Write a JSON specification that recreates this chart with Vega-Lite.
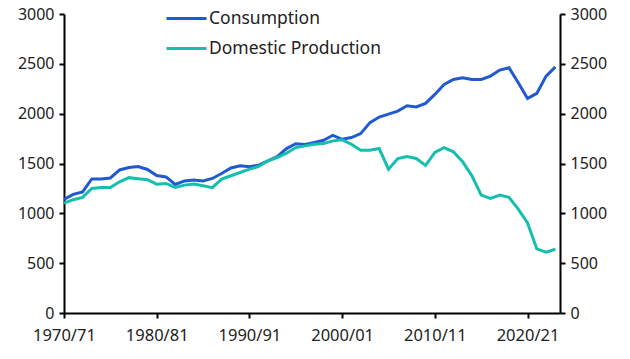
{
  "$schema": "https://vega.github.io/schema/vega-lite/v6.json",
  "width": 496,
  "height": 299,
  "autosize": {"type": "none"},
  "padding": {"left": 64, "top": 14, "right": 70, "bottom": 46},
  "background": "white",
  "config": {
    "view": {"stroke": null},
    "font": "Noto Sans",
    "axis": {
      "domainColor": "black", "domainWidth": 2,
      "tickColor": "black", "tickWidth": 2, "tickSize": 5,
      "labelFontSize": 16, "labelColor": "#222", "grid": false, "title": null,
      "labelFont": "Noto Sans"
    }
  },
  "datasets": {
    "d": [
      {"year":1970,"series":"Consumption","value":1140},{"year":1971,"series":"Consumption","value":1190},{"year":1972,"series":"Consumption","value":1215},{"year":1973,"series":"Consumption","value":1345},{"year":1974,"series":"Consumption","value":1345},{"year":1975,"series":"Consumption","value":1355},{"year":1976,"series":"Consumption","value":1435},{"year":1977,"series":"Consumption","value":1460},{"year":1978,"series":"Consumption","value":1470},{"year":1979,"series":"Consumption","value":1440},
      {"year":1980,"series":"Consumption","value":1380},{"year":1981,"series":"Consumption","value":1365},{"year":1982,"series":"Consumption","value":1290},{"year":1983,"series":"Consumption","value":1325},{"year":1984,"series":"Consumption","value":1335},{"year":1985,"series":"Consumption","value":1325},{"year":1986,"series":"Consumption","value":1350},{"year":1987,"series":"Consumption","value":1400},{"year":1988,"series":"Consumption","value":1455},{"year":1989,"series":"Consumption","value":1478},
      {"year":1990,"series":"Consumption","value":1468},{"year":1991,"series":"Consumption","value":1483},{"year":1992,"series":"Consumption","value":1527},{"year":1993,"series":"Consumption","value":1570},{"year":1994,"series":"Consumption","value":1650},{"year":1995,"series":"Consumption","value":1698},{"year":1996,"series":"Consumption","value":1690},{"year":1997,"series":"Consumption","value":1710},{"year":1998,"series":"Consumption","value":1733},{"year":1999,"series":"Consumption","value":1783},
      {"year":2000,"series":"Consumption","value":1743},{"year":2001,"series":"Consumption","value":1760},{"year":2002,"series":"Consumption","value":1800},{"year":2003,"series":"Consumption","value":1910},{"year":2004,"series":"Consumption","value":1966},{"year":2005,"series":"Consumption","value":1995},{"year":2006,"series":"Consumption","value":2026},{"year":2007,"series":"Consumption","value":2080},{"year":2008,"series":"Consumption","value":2068},{"year":2009,"series":"Consumption","value":2103},
      {"year":2010,"series":"Consumption","value":2193},{"year":2011,"series":"Consumption","value":2293},{"year":2012,"series":"Consumption","value":2343},{"year":2013,"series":"Consumption","value":2360},{"year":2014,"series":"Consumption","value":2343},{"year":2015,"series":"Consumption","value":2343},{"year":2016,"series":"Consumption","value":2377},{"year":2017,"series":"Consumption","value":2437},{"year":2018,"series":"Consumption","value":2460},{"year":2019,"series":"Consumption","value":2310},
      {"year":2020,"series":"Consumption","value":2153},{"year":2021,"series":"Consumption","value":2203},{"year":2022,"series":"Consumption","value":2377},{"year":2023,"series":"Consumption","value":2470},
      {"year":1970,"series":"Domestic Production","value":1103},{"year":1971,"series":"Domestic Production","value":1137},{"year":1972,"series":"Domestic Production","value":1160},{"year":1973,"series":"Domestic Production","value":1250},{"year":1974,"series":"Domestic Production","value":1260},{"year":1975,"series":"Domestic Production","value":1260},{"year":1976,"series":"Domestic Production","value":1316},{"year":1977,"series":"Domestic Production","value":1358},{"year":1978,"series":"Domestic Production","value":1348},{"year":1979,"series":"Domestic Production","value":1337},
      {"year":1980,"series":"Domestic Production","value":1293},{"year":1981,"series":"Domestic Production","value":1300},{"year":1982,"series":"Domestic Production","value":1260},{"year":1983,"series":"Domestic Production","value":1283},{"year":1984,"series":"Domestic Production","value":1293},{"year":1985,"series":"Domestic Production","value":1277},{"year":1986,"series":"Domestic Production","value":1258},{"year":1987,"series":"Domestic Production","value":1343},{"year":1988,"series":"Domestic Production","value":1377},{"year":1989,"series":"Domestic Production","value":1410},
      {"year":1990,"series":"Domestic Production","value":1443},{"year":1991,"series":"Domestic Production","value":1470},{"year":1992,"series":"Domestic Production","value":1527},{"year":1993,"series":"Domestic Production","value":1560},{"year":1994,"series":"Domestic Production","value":1603},{"year":1995,"series":"Domestic Production","value":1660},{"year":1996,"series":"Domestic Production","value":1677},{"year":1997,"series":"Domestic Production","value":1693},{"year":1998,"series":"Domestic Production","value":1700},{"year":1999,"series":"Domestic Production","value":1727},
      {"year":2000,"series":"Domestic Production","value":1737},{"year":2001,"series":"Domestic Production","value":1693},{"year":2002,"series":"Domestic Production","value":1633},{"year":2003,"series":"Domestic Production","value":1633},{"year":2004,"series":"Domestic Production","value":1650},{"year":2005,"series":"Domestic Production","value":1443},{"year":2006,"series":"Domestic Production","value":1550},{"year":2007,"series":"Domestic Production","value":1570},{"year":2008,"series":"Domestic Production","value":1550},{"year":2009,"series":"Domestic Production","value":1480},
      {"year":2010,"series":"Domestic Production","value":1612},{"year":2011,"series":"Domestic Production","value":1660},{"year":2012,"series":"Domestic Production","value":1617},{"year":2013,"series":"Domestic Production","value":1517},{"year":2014,"series":"Domestic Production","value":1377},{"year":2015,"series":"Domestic Production","value":1183},{"year":2016,"series":"Domestic Production","value":1150},{"year":2017,"series":"Domestic Production","value":1183},{"year":2018,"series":"Domestic Production","value":1160},{"year":2019,"series":"Domestic Production","value":1043},
      {"year":2020,"series":"Domestic Production","value":903},{"year":2021,"series":"Domestic Production","value":643},{"year":2022,"series":"Domestic Production","value":610},{"year":2023,"series":"Domestic Production","value":640}
    ]
  },
  "data": {"name": "d"},
  "encoding": {
    "x": {
      "field": "year", "type": "quantitative",
      "scale": {"domain": [1970, 2023.5], "nice": false, "zero": false},
      "axis": {"values": [1970, 1980, 1990, 2000, 2010, 2020], "labelExpr": "datum.value + '/' + slice(toString(datum.value + 1), 2)", "labelPadding": 9, "labelFlush": false, "labelFontSize": 16.5}
    },
    "y": {
      "field": "value", "type": "quantitative",
      "scale": {"domain": [0, 3000], "nice": false}
    },
    "color": {
      "field": "series", "type": "nominal",
      "scale": {"domain": ["Consumption", "Domestic Production"], "range": ["#2159D1", "#14BFAD"]},
      "legend": {
        "title": null, "orient": "none", "legendX": 101, "legendY": -17,
        "symbolType": "stroke", "symbolSize": 1600, "symbolStrokeWidth": 3,
        "labelFontSize": 17.5, "labelColor": "#222", "rowPadding": -1, "labelOffset": 1, "padding": 0,
        "labelFont": "Noto Sans", "labelLimit": 400
      }
    }
  },
  "layer": [
    {
      "mark": {"type": "line", "strokeWidth": 3},
      "encoding": {"y": {"field": "value", "type": "quantitative", "axis": {"orient": "left", "values": [0,500,1000,1500,2000,2500,3000], "format": "d", "labelPadding": 5}}}
    },
    {
      "mark": {"type": "line", "strokeWidth": 0, "opacity": 0},
      "encoding": {"y": {"field": "value", "type": "quantitative", "axis": {"orient": "right", "values": [0,500,1000,1500,2000,2500,3000], "format": "d", "labelPadding": 5}}}
    }
  ],
  "resolve": {"axis": {"y": "independent"}}
}
